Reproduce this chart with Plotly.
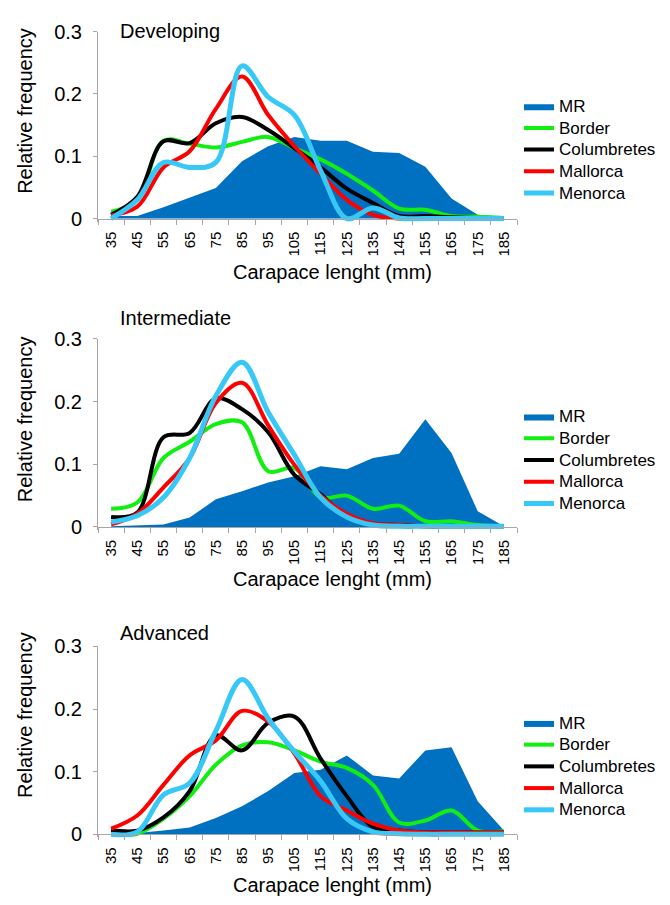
import plotly.graph_objects as go

W, H = 670, 905

categories = ["35", "45", "55", "65", "75", "85", "95", "105", "115", "125",
              "135", "145", "155", "165", "175", "185"]
series_names = ["MR", "Border", "Columbretes", "Mallorca", "Menorca"]
panel_titles = ["Developing", "Intermediate", "Advanced"]

# Developing
dev_mr = [0.004, 0.004, 0.018, 0.033, 0.049, 0.092, 0.116, 0.131, 0.125, 0.125,
          0.107, 0.105, 0.083, 0.032, 0.006, 0.003]
dev_border = [0.011, 0.030, 0.125, 0.120, 0.114, 0.123, 0.131, 0.113, 0.095, 0.072,
              0.045, 0.016, 0.014, 0.004, 0.003, 0.001]
dev_columbretes = [0.006, 0.035, 0.124, 0.121, 0.153, 0.163, 0.142, 0.113, 0.082, 0.048,
                   0.025, 0.004, 0.004, 0.002, 0.001, 0.001]
dev_mallorca = [0.005, 0.019, 0.082, 0.108, 0.176, 0.228, 0.166, 0.116, 0.072, 0.030,
                0.006, 0.000, 0.000, 0.000, 0.000, 0.000]
dev_menorca = [0.000, 0.030, 0.090, 0.082, 0.090, 0.245, 0.195, 0.166, 0.077, 0.000,
               0.017, 0.001, 0.000, 0.000, 0.000, 0.000]

# Intermediate
int_mr = [0.001, 0.002, 0.004, 0.015, 0.044, 0.057, 0.071, 0.081, 0.097, 0.092,
          0.110, 0.117, 0.172, 0.118, 0.025, 0.001]
int_border = [0.029, 0.039, 0.110, 0.136, 0.164, 0.167, 0.089, 0.094, 0.047, 0.050,
              0.029, 0.034, 0.009, 0.009, 0.003, 0.001]
int_columbretes = [0.016, 0.023, 0.143, 0.150, 0.205, 0.188, 0.151, 0.083, 0.052, 0.016,
                   0.005, 0.003, 0.001, 0.001, 0.001, 0.001]
int_mallorca = [0.004, 0.021, 0.063, 0.110, 0.198, 0.230, 0.162, 0.099, 0.050, 0.021,
                0.006, 0.003, 0.001, 0.001, 0.001, 0.001]
int_menorca = [0.008, 0.018, 0.047, 0.110, 0.209, 0.263, 0.183, 0.115, 0.047, 0.016,
               0.003, 0.001, 0.001, 0.001, 0.001, 0.001]

# Advanced
adv_mr = [0.001, 0.002, 0.006, 0.011, 0.026, 0.045, 0.069, 0.098, 0.103, 0.126,
          0.094, 0.089, 0.134, 0.139, 0.053, 0.006]
adv_border = [0.001, 0.001, 0.025, 0.061, 0.111, 0.142, 0.147, 0.134, 0.116, 0.106,
              0.079, 0.019, 0.022, 0.038, 0.006, 0.005]
adv_columbretes = [0.007, 0.006, 0.027, 0.069, 0.158, 0.134, 0.178, 0.188, 0.121, 0.061,
                   0.012, 0.006, 0.003, 0.003, 0.003, 0.003]
adv_mallorca = [0.009, 0.030, 0.079, 0.126, 0.150, 0.197, 0.180, 0.129, 0.061, 0.038,
                0.017, 0.006, 0.003, 0.003, 0.003, 0.003]
adv_menorca = [0.000, 0.004, 0.063, 0.082, 0.165, 0.247, 0.185, 0.132, 0.085, 0.025,
               0.004, 0.001, 0.000, 0.000, 0.000, 0.000]

panels = [
    [dev_mr, dev_border, dev_columbretes, dev_mallorca, dev_menorca],
    [int_mr, int_border, int_columbretes, int_mallorca, int_menorca],
    [adv_mr, adv_border, adv_columbretes, adv_mallorca, adv_menorca],
]

colors = ["#0070C0", "#11EE11", "#000000", "#FF0000", "#38C8F8"]
widths = [0, 4, 4, 4, 5]

FONT = "Liberation Sans, Arial, Helvetica, sans-serif"
AXC = "#A6A6A6"
YMIN = -0.005

# layout geometry (pixels)
x_left, x_right = 98, 517
tops = [21, 335, 649]
zeros = [212, 527, 841]
title_y = [20, 314, 635]
ytitle_y = [102, 417, 719]
xtitle_y = [267, 580, 893]
legend_mr_y = [100, 417, 730]


def py(p):
    return 1 - p / H


def px_(p):
    return p / W


fig = go.Figure()
annotations = []

for k in range(3):
    sfx = "" if k == 0 else str(k + 1)
    xa, ya = "x" + sfx, "y" + sfx
    leg = "legend" + sfx
    for j, name in enumerate(series_names):
        vals = panels[k][j]
        label = '<span style="font-size:17px">' + name + '</span>'
        if j == 0:
            fig.add_trace(go.Scatter(
                x=categories, y=vals, name=label, mode="lines",
                line=dict(width=0, color=colors[j]), fill="tozeroy",
                fillcolor=colors[j], xaxis=xa, yaxis=ya, legend=leg,
                hoverinfo="skip"))
        else:
            fig.add_trace(go.Scatter(
                x=categories, y=vals, name=label, mode="lines",
                line=dict(width=widths[j], color=colors[j], shape="spline",
                          smoothing=1.0),
                xaxis=xa, yaxis=ya, legend=leg, hoverinfo="skip"))

    top, zero = tops[k], zeros[k]
    scale = (zero - top) / 0.3
    bottom = zero + (-YMIN) * scale
    ydom = [py(bottom), py(top)]

    fig.layout["xaxis" + sfx] = dict(
        domain=[px_(x_left), px_(x_right)], anchor="free", position=py(zero),
        type="category", categoryorder="array", categoryarray=categories,
        tickson="boundaries", ticks="outside", ticklen=5, tickcolor=AXC,
        showline=True, linecolor=AXC, linewidth=1, showgrid=False,
        tickangle=-90, tickfont=dict(family=FONT, size=15, color="#000"),
        ticklabelstandoff=6, range=[-0.5, 15.5], fixedrange=True)
    fig.layout["yaxis" + sfx] = dict(
        domain=ydom, anchor=xa, range=[YMIN, 0.3],
        tickvals=[0, 0.1, 0.2, 0.3], ticktext=["0", "0.1", "0.2", "0.3"],
        ticks="outside", ticklen=4, tickcolor=AXC, showline=True,
        linecolor=AXC, linewidth=1, showgrid=False, zeroline=False,
        tickfont=dict(family=FONT, size=20, color="#000"),
        ticklabelstandoff=7, fixedrange=True)

    fig.layout[leg] = dict(
        x=px_(519), y=py(legend_mr_y[k] - 19), xanchor="left", yanchor="top",
        font=dict(family=FONT, size=14.4, color="#000"),
        bgcolor="rgba(0,0,0,0)", tracegroupgap=0, itemwidth=30)

    annotations.append(dict(
        text=panel_titles[k], x=px_(118), y=py(title_y[k]), xref="paper",
        yref="paper", xanchor="left", yanchor="middle", showarrow=False,
        font=dict(family=FONT, size=20, color="#000")))
    annotations.append(dict(
        text="Relative frequency", x=px_(25), y=py(ytitle_y[k]), xref="paper",
        yref="paper", xanchor="center", yanchor="middle", showarrow=False,
        textangle=-90, font=dict(family=FONT, size=20, color="#000")))
    annotations.append(dict(
        text="Carapace lenght (mm)", x=px_(332), y=py(xtitle_y[k]),
        xref="paper", yref="paper", xanchor="center", yanchor="middle",
        showarrow=False, font=dict(family=FONT, size=20, color="#000")))

fig.update_layout(
    width=W, height=H, margin=dict(l=0, r=0, t=0, b=0),
    paper_bgcolor="white", plot_bgcolor="white", annotations=annotations,
    font=dict(family=FONT, color="#000"), showlegend=True)

fig.write_html("out.html")
